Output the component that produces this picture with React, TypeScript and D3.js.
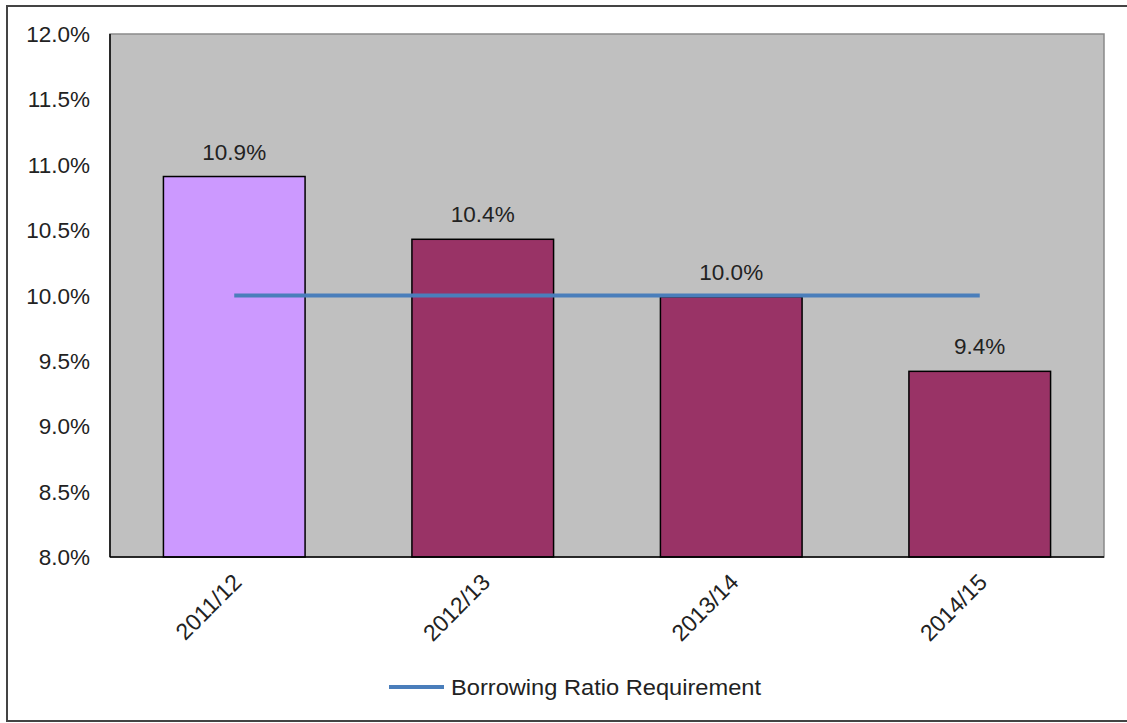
import React from "react";
import * as d3 from "d3";

const categories: string[] = ["2011/12", "2012/13", "2013/14", "2014/15"];
const ratioValues: number[] = [10.91, 10.43, 9.99, 9.42];
const ratioLabels: string[] = ["10.9%", "10.4%", "10.0%", "9.4%"];
const barColors: string[] = ["#CC99FF", "#993366", "#993366", "#993366"];
const requirementValues: number[] = [10.0, 10.0, 10.0, 10.0];
const yTicks: number[] = [8.0, 8.5, 9.0, 9.5, 10.0, 10.5, 11.0, 11.5, 12.0];
const legendLabel = "Borrowing Ratio Requirement";

const W = 1127;
const H = 723;
const plot = { left: 110, right: 1104, top: 34, bottom: 557 };
const FONT = "Arial, 'Liberation Sans', sans-serif";

export default function App() {
  const x = d3
    .scaleBand<string>()
    .domain(categories)
    .range([plot.left, plot.right])
    .paddingInner(0.43)
    .paddingOuter(0.215);
  const y = d3.scaleLinear().domain([8, 12]).range([plot.bottom, plot.top]);
  const line = d3
    .line<number>()
    .x((_, i) => (x(categories[i]) as number) + x.bandwidth() / 2)
    .y((d) => y(d));

  return (
    <svg
      width={W}
      height={H}
      style={{ position: "absolute", left: 0, top: 0, background: "#fff" }}
      fontFamily={FONT}
    >
      {/* outer frame */}
      <path d={`M1130,6 L7,6 L7,721 L1130,721`} fill="none" stroke="#444" strokeWidth={2} />
      {/* plot area */}
      <rect
        x={plot.left}
        y={plot.top}
        width={plot.right - plot.left}
        height={plot.bottom - plot.top}
        fill="#C0C0C0"
        stroke="#8a8a8a"
        strokeWidth={1.5}
      />
      {/* bars */}
      {categories.map((c, i) => (
        <rect
          key={c}
          x={x(c)}
          y={y(ratioValues[i])}
          width={x.bandwidth()}
          height={plot.bottom - y(ratioValues[i])}
          fill={barColors[i]}
          stroke="#000"
          strokeWidth={1.5}
        />
      ))}
      {/* axes */}
      <line x1={plot.left} x2={plot.left} y1={plot.top} y2={plot.bottom} stroke="#000" strokeWidth={1.5} />
      <line x1={plot.left} x2={plot.right} y1={plot.bottom} y2={plot.bottom} stroke="#000" strokeWidth={1.5} />
      {/* requirement line */}
      <path d={line(requirementValues) || ""} fill="none" stroke="#4A7EBB" strokeWidth={4} />
      {/* data labels */}
      {categories.map((c, i) => (
        <text
          key={c + "lbl"}
          x={(x(c) as number) + x.bandwidth() / 2}
          y={y(ratioValues[i]) - 17}
          textAnchor="middle"
          fontSize={22.5}
          fill="#222"
        >
          {ratioLabels[i]}
        </text>
      ))}
      {/* y ticks */}
      {yTicks.map((t) => (
        <text key={t} x={90} y={y(t) + 8} textAnchor="end" fontSize={22.5} fill="#222">
          {t.toFixed(1) + "%"}
        </text>
      ))}
      {/* x labels */}
      {categories.map((c) => {
        const cx = (x(c) as number) + x.bandwidth() / 2 + 3;
        const cy = plot.bottom + 21;
        return (
          <text
            key={c + "x"}
            transform={`translate(${cx},${cy}) rotate(-45)`}
            textAnchor="end"
            fontSize={23}
            fill="#222"
            dy="0.35em"
          >
            {c}
          </text>
        );
      })}
      {/* legend */}
      <line x1={389} x2={444} y1={687} y2={687} stroke="#4A7EBB" strokeWidth={4} />
      <text x={451} y={695} fontSize={22} fill="#222" textLength={310} lengthAdjust="spacingAndGlyphs">
        {legendLabel}
      </text>
    </svg>
  );
}
